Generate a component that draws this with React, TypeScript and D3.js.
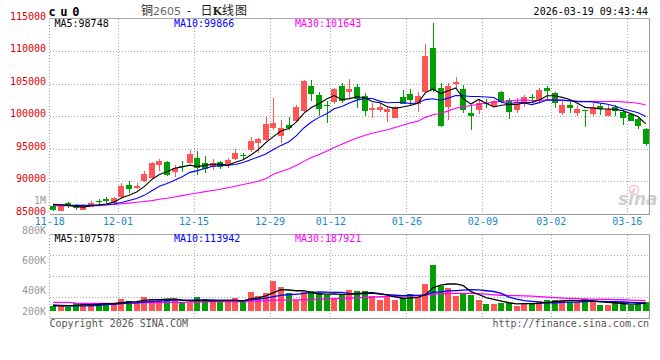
import React from "react";
import * as d3 from "d3";

// ---- data ----
const dates = [
  "11-18","11-19","11-20","11-21","11-24","11-25","11-26","11-27","11-28",
  "12-01","12-02","12-03","12-04","12-05","12-08","12-09","12-10","12-11","12-12",
  "12-15","12-16","12-17","12-18","12-19","12-22","12-23","12-24","12-25","12-26",
  "12-29","12-30","12-31",
  "01-05","01-06","01-07","01-08","01-09","01-12","01-13","01-14","01-15","01-16",
  "01-19","01-20","01-21","01-22","01-23","01-26","01-27","01-28","01-29","01-30",
  "02-02","02-03","02-04","02-05","02-06","02-09","02-10","02-11","02-12","02-13",
  "02-24","02-25","02-26","02-27",
  "03-02","03-03","03-04","03-05","03-06","03-09","03-10","03-11","03-12","03-13",
  "03-16","03-17","03-18"
];

const open = [86100,85430,86650,86000,85600,86050,86900,87250,86600,87550,
  89400,88950,90000,90450,92400,92950,91350,92350,92800,93600,
  92700,92150,92850,92400,93350,93950,94750,95800,96300,98100,
  96900,98600,99300,100750,104600,103250,101700,102200,104650,103750,
  104450,103100,100900,100900,100650,99750,102850,103350,101850,103750,
  110400,104250,101450,104950,104100,100500,100900,102050,101600,103750,
  102450,100900,101850,102900,102450,104250,103500,100500,101700,100400,
  100850,100250,101550,100050,101400,100650,100250,99550,98000];

const high = [86400,86250,86700,86450,86500,86900,87250,87500,87550,89650,
  90000,89650,91500,92900,93450,93100,92450,93100,94750,94600,
  93800,93400,93150,93500,94850,94350,96700,96650,99900,102700,
  99400,99800,101700,105550,105550,103750,102350,104350,105150,105700,
  104850,103600,102050,102050,101550,101550,104000,104100,103750,111100,
  114300,105150,105050,105950,104750,101700,102550,102550,102450,103900,
  102700,102700,103250,103350,104350,104600,103750,102450,102200,101700,
  100900,101950,101800,101700,101700,100900,100350,99650,98100];

const low = [85400,85400,85900,85500,85500,85950,86200,86600,86400,87400,
  88200,88800,89900,90300,91550,90750,90650,91450,92600,90900,
  91300,91700,91900,91950,93300,93450,94500,94250,96050,97850,
  95800,97850,99150,100650,102300,100000,98850,101850,101950,102700,
  101200,100000,99650,100650,99150,99650,101800,101700,100650,103500,
  103750,98300,99400,104250,100500,97850,100300,101300,101450,102050,
  99550,100400,101450,101950,101950,102450,101300,100150,100400,100000,
  98350,100000,100150,100000,100050,98600,99250,98000,95400];

const close = [85550,86200,86150,85850,86150,86600,86750,86900,87350,89250,
  88750,89250,91050,92800,93100,90900,91950,92100,94150,91950,
  91900,92800,92150,93250,94350,93850,96200,96400,98750,98950,
  98100,98100,101450,105450,103400,101100,101650,104150,102300,104150,
  102600,100800,101300,101400,101050,101350,101850,102450,103100,109250,
  104000,98450,104600,105250,100900,100000,101950,101800,102300,102200,
  100650,101950,102950,102750,104000,103900,101950,101700,101200,101050,
  100750,101450,101050,101100,100750,99750,99300,98500,95650];

const ma5 = [86400,86350,86250,86100,85980,86190,86300,86450,86750,87370,
  87800,88300,89130,90220,90990,91420,91960,92170,92440,92210,
  92410,92580,92590,92410,92890,93280,93960,94810,95910,96830,
  97680,98060,99070,100410,101300,101900,102610,103150,102520,102670,
  102970,102800,102230,102050,101430,101180,101390,101620,101960,103600,
  104130,103450,103880,104310,102640,101840,102540,101980,101390,101650,
  101780,101780,102010,102100,102460,103110,103110,102860,102550,101960,
  101330,101230,101100,101080,101020,100820,100390,99880,98790];

const ma10 = [86300,86300,86250,86250,86250,86250,86300,86350,86450,86680,
  87000,87300,87790,88490,89180,89610,90130,90650,91330,91600,
  91920,92270,92380,92430,92550,92850,93270,93700,94160,94860,
  95480,96010,96940,98160,99070,99790,100340,101110,101470,101990,
  102440,102710,102690,102290,102050,102080,102100,101930,102010,102520,
  102660,102420,102750,103140,103120,102990,103000,102930,102850,102150,
  101810,102160,102000,101750,102060,102450,102450,102440,102330,102210,
  102220,102170,101980,101820,101490,101080,100810,100490,99940];

const ma30 = [86200,86200,86200,86200,86200,86200,86200,86300,86400,86500,
  86600,86720,86850,86980,87180,87350,87550,87750,87950,88150,
  88360,88550,88720,88970,89200,89450,89700,89950,90350,91050,
  91460,91860,92370,93020,93600,94080,94580,95150,95650,96150,
  96610,97000,97340,97620,97890,98240,98570,98910,99210,99790,
  100190,100380,100790,101190,101410,101620,101810,101990,102110,102220,
  102300,102430,102480,102390,102410,102500,102510,102430,102390,102290,
  102230,102250,102240,102230,102220,102170,102080,101950,101700];

// volume, thousands
const volume = [312,312,310,331,331,320,331,331,331,360,
  347,342,373,360,360,360,353,331,331,373,
  360,342,342,342,367,342,407,382,400,480,
  440,400,353,407,413,400,387,364,391,420,
  413,413,380,353,373,353,364,393,373,460,
  587,447,433,380,398,387,353,327,327,336,
  331,316,336,327,347,353,353,353,342,342,
  360,342,320,320,331,338,320,331,338];

const volMa5 = [315,315,315,318,323,323,325,329,329,335,
  340,342,351,356,356,359,361,353,347,350,
  350,347,350,352,351,347,360,368,380,402,
  422,420,415,416,403,395,392,394,391,392,
  395,400,403,396,386,374,365,367,371,389,
  435,452,460,461,449,409,390,369,358,346,
  335,327,329,329,331,336,343,347,350,349,
  350,348,341,337,335,330,326,328,332];

const volMa10 = [320,318,315,314,314,315,318,322,325,329,
  332,334,340,343,346,350,352,352,352,353,
  354,354,351,349,350,348,354,359,366,376,
  384,390,391,398,402,408,406,404,404,398,
  395,396,399,393,389,385,382,385,384,388,
  405,408,414,416,419,422,421,415,410,398,
  372,359,349,344,339,335,335,338,339,340,
  343,346,344,343,342,340,337,335,334];

const volMa30 = [338,338,337,333,331,331,330,330,331,332,
  333,335,336,336,336,337,337,338,339,340,
  341,342,342,342,343,343,344,346,349,352,
  353,353,354,355,356,358,361,363,364,365,
  367,370,373,375,377,378,379,380,381,386,
  391,395,397,398,398,397,395,392,388,385,
  383,382,381,379,376,372,369,366,364,362,
  360,358,357,357,356,355,353,351,349];

const priceTicks = [85000, 90000, 95000, 100000, 105000, 110000, 115000];
const priceGrid = [90000, 95000, 100000, 105000, 110000];
const volTicks = [200, 400, 600, 800, 1000];
const volTickLabels = ["200K", "400K", "600K", "800K", "1M"];
const dateTicks = ["11-18","12-01","12-15","12-29","01-12","01-26","02-09","03-02","03-16"];

const RED = "#ff5555";
const GREEN = "#00a000";
const MONO = "'DejaVu Sans Mono', 'Liberation Mono', monospace";
const CJK = "'Noto Sans CJK SC', 'Noto Sans', sans-serif";

export default function App() {
  const left = 49.2, right = 649.6;
  const priceTop = 18.5, priceBottom = 213.5;
  const volTop = 234.5, volBottom = 318.5;

  const x = d3.scaleBand<string>().domain(dates).range([left, right]);
  const step = x.step();
  const cx = (i: number) => (x(dates[i]) as number) + step / 2;
  const y = d3.scaleLinear().domain([85000, 115000]).range([priceBottom, priceTop]);
  const yv = d3.scaleLinear().domain([280, 800]).range([311, 233]);

  const line = (arr: number[], sc: (v: number) => number) =>
    d3.line<number>().x((_, i) => cx(i)).y((d) => sc(d))(arr) || "";

  const frameL = 49.5, frameR = 649.5;
  const volGrid = [0.25, 0.5, 0.75].map((f) => volTop + (volBottom - volTop) * f - 0.5);

  return (
    <svg width={660} height={360} style={{ display: "block", position: "absolute", left: 0, top: 0, background: "#fff" }}
      shapeRendering="crispEdges">
      {/* header */}
      <text x={48.5} y={15.5} fontFamily={MONO} fontSize={12} fontWeight="bold" letterSpacing={4.6} fill="#000">cu0</text>
      <text x={141} y={15} fontFamily={CJK} fontSize={12} fill="#222">铜</text>
      <text x={153} y={15} fontFamily="'DejaVu Sans', sans-serif" fontSize={11} fill="#666">2605</text>
      <text x={187} y={15} fontFamily={CJK} fontSize={12} fill="#222">-</text>
      <text x={200.5} y={15} fontFamily={CJK} fontSize={12} fill="#222">日</text>
      <text x={212.5} y={15} fontFamily="'DejaVu Serif', serif" fontSize={11} fontWeight="bold" fill="#222">K</text>
      <text x={222} y={15} fontFamily={CJK} fontSize={12} fill="#222">线</text>
      <text x={235} y={15} fontFamily={CJK} fontSize={12} fill="#222">图</text>
      <text x={648} y={15} textAnchor="end" fontFamily={MONO} fontSize={10} fill="#000">2026-03-19 09:43:44</text>

      {/* price grid */}
      {priceGrid.map((v) => (
        <line key={"hg" + v} x1={frameL} x2={frameR} y1={Math.round(y(v)) + 0.5} y2={Math.round(y(v)) + 0.5}
          stroke="#aaa" strokeDasharray="1 2" />
      ))}
      {dateTicks.slice(1).map((d) => {
        const gx = Math.round(x(d) as number) + 0.5;
        return (
          <g key={"vg" + d}>
            <line x1={gx} x2={gx} y1={priceTop} y2={priceBottom} stroke="#aaa" strokeDasharray="1 2" />
            <line x1={gx} x2={gx} y1={volTop} y2={volBottom} stroke="#aaa" strokeDasharray="1 2" />
          </g>
        );
      })}
      {volGrid.map((gy, k) => (
        <line key={"vhg" + k} x1={frameL} x2={frameR} y1={Math.round(gy) + 0.5} y2={Math.round(gy) + 0.5}
          stroke="#aaa" strokeDasharray="1 2" />
      ))}

      {/* watermark */}
      <g opacity={0.6}>
        <circle cx={634} cy={190} r={4.5} fill="none" stroke="#f2a0a0" strokeWidth={1.5} shapeRendering="auto" />
        <circle cx={634} cy={190} r={1.5} fill="#f2a0a0" shapeRendering="auto" />
        <text x={618} y={205} fontFamily="'DejaVu Sans', sans-serif" fontSize={17} fontStyle="italic" fontWeight="bold"
          fill="#b0b0b0" shapeRendering="auto">sina</text>
      </g>

      {/* frames */}
      <line x1={frameL} x2={frameR} y1={priceTop} y2={priceTop} stroke="#aaa" />
      <line x1={frameL} x2={frameL} y1={priceTop} y2={priceBottom} stroke="#999" strokeDasharray="1 2" />
      <line x1={frameR} x2={frameR} y1={priceTop} y2={priceBottom + 1} stroke="#999" strokeWidth={1.5} />
      <line x1={frameL} x2={frameR} y1={214.5} y2={214.5} stroke="#999" strokeWidth={1.5} />
      <line x1={frameL} x2={frameR} y1={volTop} y2={volTop} stroke="#aaa" />
      <line x1={frameL} x2={frameL} y1={volTop} y2={volBottom} stroke="#999" strokeDasharray="1 2" />
      <line x1={frameR} x2={frameR} y1={volTop} y2={volBottom} stroke="#999" strokeWidth={1.5} />
      <line x1={frameL} x2={frameR} y1={volBottom} y2={volBottom} stroke="#999" strokeWidth={1.5} />

      {/* price labels */}
      {priceTicks.map((v) => (
        <text key={"pt" + v} x={46} y={y(v) + 1} textAnchor="end" fontFamily={MONO} fontSize={10} fill="#e00000">{v}</text>
      ))}
      {volTicks.map((v, k) => (
        <text key={"vt" + v} x={46} y={Math.min(yv(v) + 1, 314.5)} textAnchor="end" fontFamily={MONO} fontSize={10}
          fill="#999">{volTickLabels[k]}</text>
      ))}
      {dateTicks.map((d) => (
        <text key={"dt" + d} x={(x(d) as number) + 0.5} y={224.5} textAnchor="middle" fontFamily={MONO} fontSize={10}
          fill="#1a88cc">{d}</text>
      ))}

      {/* candles */}
      {dates.map((d, i) => {
        const up = close[i] >= open[i];
        const col = up ? RED : GREEN;
        const bx = Math.round(cx(i) - 3);
        const yTop = Math.round(y(Math.max(open[i], close[i])));
        const yBot = Math.round(y(Math.min(open[i], close[i])));
        return (
          <g key={"c" + d}>
            <line x1={bx + 3.5} x2={bx + 3.5} y1={Math.round(y(high[i]))} y2={Math.round(y(low[i]))} stroke={col} />
            <rect x={bx} y={yTop} width={6} height={Math.max(1, yBot - yTop)} fill={col} />
          </g>
        );
      })}

      {/* price MAs */}
      <g fill="none" shapeRendering="auto">
        <path d={line(ma30, y)} stroke="#ff00ff" strokeWidth={1.1} />
        <path d={line(ma10, y)} stroke="#0000ff" strokeWidth={1.1} />
        <path d={line(ma5, y)} stroke="#000" strokeWidth={1.1} />
      </g>

      {/* volume bars */}
      {dates.map((d, i) => {
        const up = close[i] >= open[i];
        const bx = Math.round(cx(i) - 3);
        const ty = Math.round(yv(volume[i]));
        const by = Math.round(yv(280));
        return <rect key={"v" + d} x={bx} y={ty} width={6} height={by - ty} fill={up ? RED : GREEN} />;
      })}
      <g fill="none" shapeRendering="auto">
        <path d={line(volMa30, yv)} stroke="#ff00ff" strokeWidth={1.3} />
        <path d={line(volMa10, yv)} stroke="#0000ff" strokeWidth={1.3} />
        <path d={line(volMa5, yv)} stroke="#000" strokeWidth={1.3} />
      </g>

      {/* MA legends */}
      <text x={54.5} y={27} fontFamily={MONO} fontSize={10} fill="#000">MA5:98748</text>
      <text x={174} y={27} fontFamily={MONO} fontSize={10} fill="#0000ff">MA10:99866</text>
      <text x={295} y={27} fontFamily={MONO} fontSize={10} fill="#ff00ff">MA30:101643</text>
      <text x={54.5} y={242} fontFamily={MONO} fontSize={10} fill="#000">MA5:107578</text>
      <text x={174} y={242} fontFamily={MONO} fontSize={10} fill="#0000ff">MA10:113942</text>
      <text x={295} y={242} fontFamily={MONO} fontSize={10} fill="#ff00ff">MA30:187921</text>

      {/* footer */}
      <text x={49.5} y={327} fontFamily={MONO} fontSize={10} fill="#555">Copyright 2026 SINA.COM</text>
      <text x={649} y={327} textAnchor="end" fontFamily={MONO} fontSize={10} fill="#555">http://finance.sina.com.cn</text>
    </svg>
  );
}
